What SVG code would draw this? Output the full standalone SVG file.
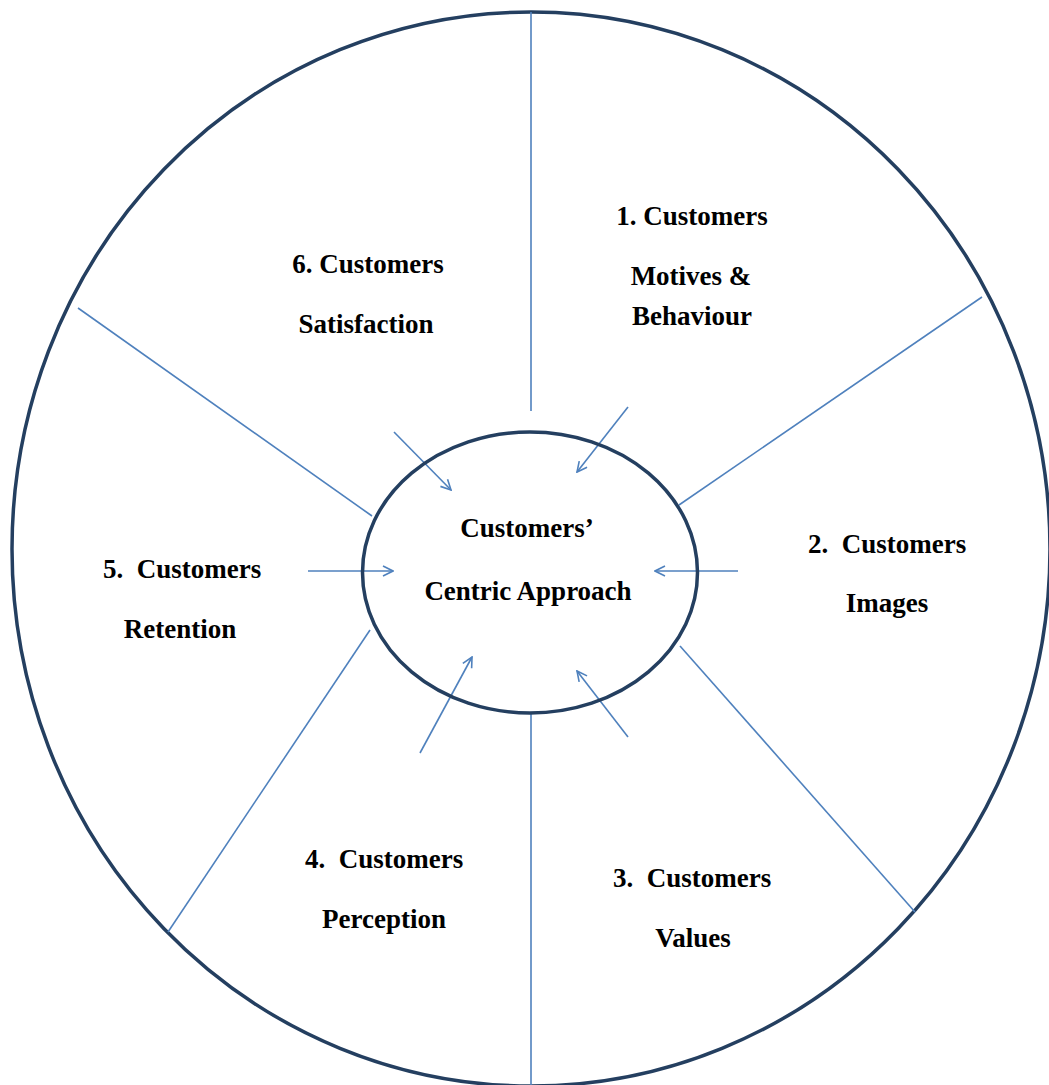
<svg xmlns="http://www.w3.org/2000/svg" width="1049" height="1085" viewBox="0 0 1049 1085">
  <defs>
    <style>
      .ring { fill: none; stroke: #243f60; stroke-width: 3.5; }
      .divider { stroke: #4f81bd; stroke-width: 1.6; fill: none; }
      .pointer { stroke: #4f81bd; stroke-width: 1.6; fill: none; marker-end: url(#head); }
      .label { font-family: "Liberation Serif", "Times New Roman", serif; font-weight: bold; font-size: 27px; fill: #000; }
      .mid { text-anchor: middle; }
    </style>
    <marker id="head" viewBox="0 0 12 12" refX="11" refY="6" markerWidth="12" markerHeight="12" markerUnits="userSpaceOnUse" orient="auto">
      <path d="M1,1 L11,6 L1,11" fill="none" stroke="#4f81bd" stroke-width="1.6"/>
    </marker>
  </defs>

  <rect width="1049" height="1085" fill="#ffffff"/>

  <!-- outer wheel -->
  <ellipse id="wheel" class="ring" cx="531" cy="549" rx="519" ry="537"/>

  <!-- spokes and inward arrows -->
  <g id="connectors">
    <line class="divider" x1="531" y1="12" x2="531" y2="411"/>
    <line class="divider" x1="531" y1="713" x2="531" y2="1085"/>
    <line class="divider" x1="679" y1="505" x2="982" y2="297"/>
    <line class="divider" x1="78" y1="308" x2="372" y2="516"/>
    <line class="divider" x1="370" y1="630" x2="168" y2="932"/>
    <line class="divider" x1="680" y1="646" x2="915" y2="912"/>

    <line class="pointer" x1="394" y1="432" x2="451" y2="490"/>
    <line class="pointer" x1="628" y1="407" x2="577" y2="472"/>
    <line class="pointer" x1="738" y1="571" x2="655" y2="571"/>
    <line class="pointer" x1="308" y1="571" x2="393" y2="571"/>
    <line class="pointer" x1="420" y1="753" x2="472" y2="657"/>
    <line class="pointer" x1="628" y1="737" x2="577" y2="671"/>
  </g>

  <!-- hub -->
  <g id="hub">
    <ellipse class="ring" cx="530" cy="572.5" rx="167.5" ry="140.5"/>
    <text class="label mid" x="527" y="537">Customers’</text>
    <text class="label mid" x="528" y="600">Centric Approach</text>
  </g>

  <!-- segment labels -->
  <g id="motives">
    <text class="label mid" x="692" y="225">1. Customers</text>
    <text class="label mid" x="691" y="285">Motives &amp;</text>
    <text class="label mid" x="692" y="325">Behaviour</text>
  </g>
  <g id="images">
    <text class="label" x="808" y="553" xml:space="preserve">2.  Customers</text>
    <text class="label mid" x="887" y="612">Images</text>
  </g>
  <g id="values">
    <text class="label" x="613" y="887" xml:space="preserve">3.  Customers</text>
    <text class="label mid" x="693" y="947">Values</text>
  </g>
  <g id="perception">
    <text class="label" x="305" y="868" xml:space="preserve">4.  Customers</text>
    <text class="label mid" x="384" y="928">Perception</text>
  </g>
  <g id="retention">
    <text class="label" x="103" y="578" xml:space="preserve">5.  Customers</text>
    <text class="label mid" x="180" y="638">Retention</text>
  </g>
  <g id="satisfaction">
    <text class="label mid" x="368" y="273">6. Customers</text>
    <text class="label mid" x="366" y="333">Satisfaction</text>
  </g>
</svg>
